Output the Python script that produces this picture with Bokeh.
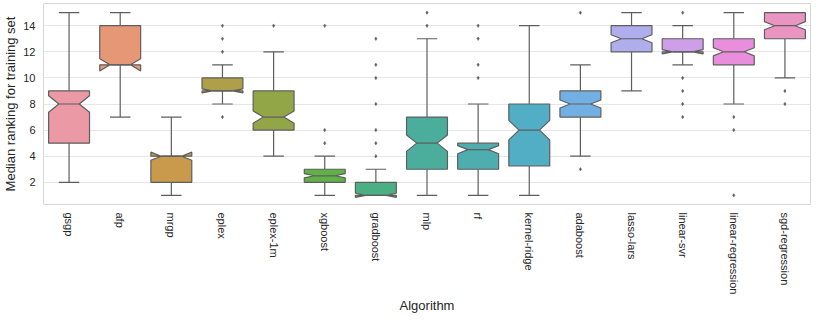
import math
import colorsys
from bokeh.plotting import figure
from bokeh.models import Range1d, FixedTicker, ColumnDataSource
from bokeh.embed import file_html
from bokeh.resources import INLINE

# ---------------- data ----------------
algorithms = ["gsgp", "afp", "mrgp", "eplex", "eplex-1m", "xgboost", "gradboost",
              "mlp", "rf", "kernel-ridge", "adaboost", "lasso-lars", "linear-svr",
              "linear-regression", "sgd-regression"]
whisker_low = [2, 7, 1, 8, 4, 1, 1, 1, 1, 1, 4, 9, 11, 8, 10]
q1 = [5, 11, 2, 9, 6, 2, 1, 3, 3, 3.25, 7, 12, 12, 11, 13]
median = [8, 11, 4, 9, 7, 2.5, 1, 5, 4.5, 6, 8, 13, 12, 12, 14]
q3 = [9, 14, 4, 10, 9, 3, 2, 7, 5, 8, 9, 14, 13, 13, 15]
whisker_high = [15, 15, 7, 11, 12, 4, 3, 13, 8, 14, 11, 15, 14, 15, 15]
notch_low = [7.37, 10.53, 3.69, 8.84, 6.53, 2.34, 0.84, 4.37, 4.19, 5.25, 7.69, 12.69, 11.84, 11.69, 13.69]
notch_high = [8.63, 11.47, 4.31, 9.16, 7.47, 2.66, 1.16, 5.63, 4.81, 6.75, 8.31, 13.31, 12.16, 12.31, 14.31]
outliers = [[], [], [], [7, 12, 13, 14], [14], [5, 6, 14], [4, 5, 6, 8, 10, 11, 13],
            [14, 15], [10, 11, 13, 14], [], [3, 15], [], [7, 8, 9, 10, 15], [1, 6, 7], [8, 9]]
y_ticks = [2, 4, 6, 8, 10, 12, 14]

# ---------------- seaborn-like husl palette ----------------
_m = [[3.2406, -1.5372, -0.4986], [-0.9689, 1.8758, 0.0415], [0.0557, -0.2040, 1.0570]]
_refU, _refV = 0.19784, 0.46834


def _max_chroma(L, H):
    hrad = math.radians(H)
    sinH, cosH = math.sin(hrad), math.cos(hrad)
    sub1 = (L + 16) ** 3 / 1560896.0
    sub2 = sub1 if sub1 > 0.008856 else L / 903.3
    result = float("inf")
    for m1, m2, m3 in _m:
        top = (0.99915 * m1 + 1.05122 * m2 + 1.14460 * m3) * sub2
        rbottom = 0.86330 * m3 - 0.17266 * m2
        lbottom = 0.12949 * m3 - 0.38848 * m1
        bottom = (rbottom * sinH + lbottom * cosH) * sub2
        for t in (0.0, 1.0):
            C = L * (top - 1.05122 * t) / (bottom + 0.17266 * sinH * t)
            if 0.0 < C < result:
                result = C
    return result


def _husl_to_rgb(H, S, L):
    C = _max_chroma(L, H) / 100.0 * S
    hrad = math.radians(H)
    U, V = math.cos(hrad) * C, math.sin(hrad) * C
    t = (L + 16.0) / 116.0
    varY = t ** 3 if t ** 3 > 0.008856 else (116.0 * t - 16.0) / 903.3
    varU = U / (13.0 * L) + _refU
    varV = V / (13.0 * L) + _refV
    Y = varY
    X = 0.0 - (9.0 * Y * varU) / ((varU - 4.0) * varV - varU * varV)
    Z = (9.0 * Y - 15.0 * varV * Y - varV * X) / (3.0 * varV)
    out = []
    for row in _m:
        c = row[0] * X + row[1] * Y + row[2] * Z
        c = 12.92 * c if c <= 0.0031308 else 1.055 * c ** (1 / 2.4) - 0.055
        out.append(min(max(c, 0.0), 1.0))
    return out


n = len(algorithms)
rgb = []
for i in range(n):
    h = ((i / n) + 0.01) % 1 * 359
    r, g, b = _husl_to_rgb(h, 0.9 * 99, 70.0)
    hh, ll, ss = colorsys.rgb_to_hls(r, g, b)
    rgb.append(colorsys.hls_to_rgb(hh, ll, ss * 0.75))
colors = ["#%02x%02x%02x" % tuple(int(round(c * 255)) for c in col) for col in rgb]
gray = "#5e5e5e"

# ---------------- geometry ----------------
half = 0.4
notch_half = 0.2
cap_half = 0.2
xs, ys = [], []
for i in range(n):
    L, R, NL, NR = i - half, i + half, i - notch_half, i + notch_half
    xs.append([L, L, NL, L, L, R, R, NR, R, R])
    ys.append([q1[i], notch_low[i], median[i], notch_high[i], q3[i],
               q3[i], notch_high[i], median[i], notch_low[i], q1[i]])

idx = list(range(n))
font = "Liberation Sans"
text_color = "#262626"

p = figure(width=814, height=316, x_range=Range1d(-0.5, 14.5), y_range=Range1d(0.3, 15.7),
           output_backend="svg", toolbar_location=None,
           min_border_left=34, min_border_top=3, min_border_right=4, min_border_bottom=0)
p.background_fill_color = "white"
p.outline_line_color = "#d6d6d6"
p.outline_line_width = 1
p.xgrid.visible = False
p.ygrid.grid_line_color = "#e6e6e6"
p.ygrid.grid_line_width = 1
p.ygrid.ticker = FixedTicker(ticks=y_ticks)

lw = 1.2
# whiskers + caps
p.segment(x0=idx, y0=q1, x1=idx, y1=whisker_low, line_color=gray, line_width=lw)
p.segment(x0=idx, y0=q3, x1=idx, y1=whisker_high, line_color=gray, line_width=lw)
p.segment(x0=[i - cap_half for i in idx], y0=whisker_low, x1=[i + cap_half for i in idx],
          y1=whisker_low, line_color=gray, line_width=lw)
p.segment(x0=[i - cap_half for i in idx], y0=whisker_high, x1=[i + cap_half for i in idx],
          y1=whisker_high, line_color=gray, line_width=lw)

src = ColumnDataSource(dict(xs=xs, ys=ys, fill=colors))
p.patches("xs", "ys", source=src, fill_color="fill", line_color=gray, line_width=lw)
p.segment(x0=[i - notch_half for i in idx], y0=median, x1=[i + notch_half for i in idx],
          y1=median, line_color=gray, line_width=lw)

ox, oy = [], []
for i, vals in enumerate(outliers):
    for v in vals:
        ox.append(i)
        oy.append(v)
p.scatter(ox, oy, marker="diamond", size=3.5, fill_color=gray, line_color=gray, line_width=0.5)

# axes
p.xaxis.ticker = FixedTicker(ticks=idx)
p.xaxis.major_label_overrides = {i: a for i, a in enumerate(algorithms)}
p.xaxis.major_label_orientation = "vertical"
p.yaxis.ticker = FixedTicker(ticks=y_ticks)
for ax in (p.xaxis[0], p.yaxis[0]):
    ax.axis_line_color = None
    ax.major_tick_line_color = None
    ax.minor_tick_line_color = None
    ax.major_label_text_font = font
    ax.major_label_text_font_size = "11px"
    ax.major_label_text_color = text_color
    ax.major_label_standoff = 2
    ax.axis_label_text_font = font
    ax.axis_label_text_font_size = "13px"
    ax.axis_label_text_font_style = "normal"
    ax.axis_label_text_color = text_color
p.xaxis.axis_label = "Algorithm"
p.yaxis.axis_label = "Median ranking for training set"
p.xaxis.axis_label_standoff = 1
p.yaxis.axis_label_standoff = 2

open("out.html", "w").write(file_html(p, INLINE))
